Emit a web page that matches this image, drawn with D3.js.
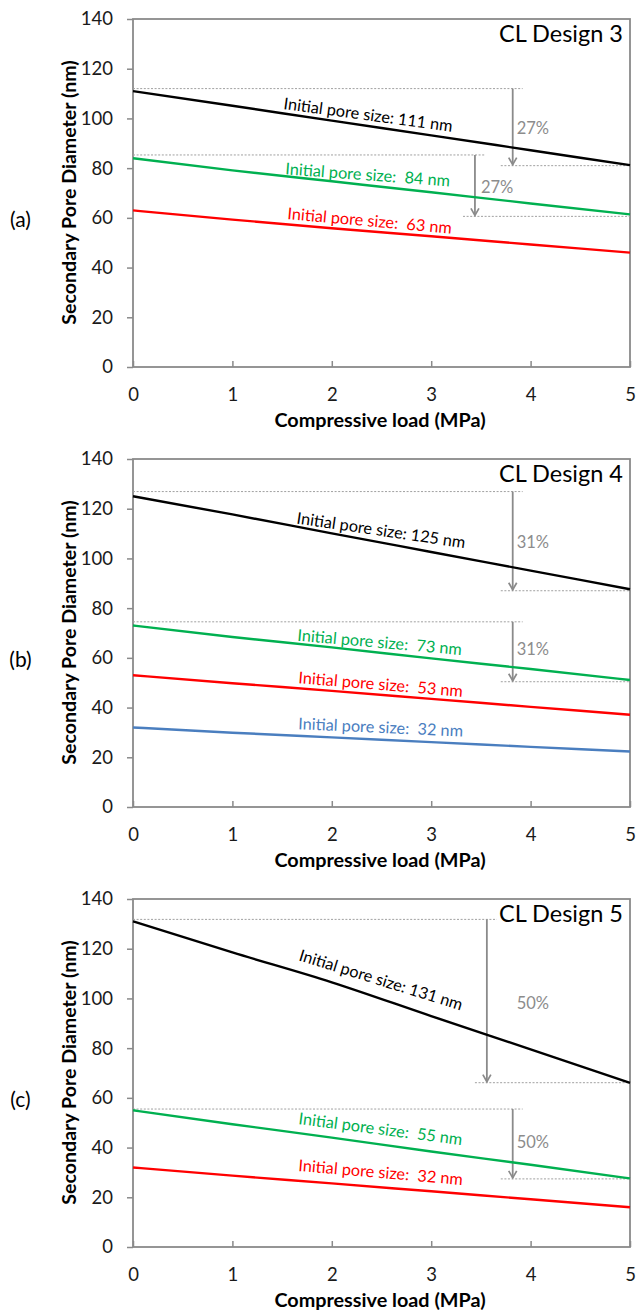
<!DOCTYPE html>
<html>
<head>
<meta charset="utf-8">
<script src="https://cdn.jsdelivr.net/npm/d3@7"></script>
<style>
  body { margin: 0; background: #fff; }
  svg { display: block; font-family: Lato, "Open Sans", sans-serif; }
  .lbl { white-space: pre; }
</style>
</head>
<body>
<svg id="chart" width="636" height="1311"></svg>
<script>
// ---- data ---------------------------------------------------------------
const loadMPa = [0, 1, 2, 3, 4, 5];
const xTickValues = [0, 1, 2, 3, 4, 5];
const yTickValues = [0, 20, 40, 60, 80, 100, 120, 140];
const panelLetters = ["(a)", "(b)", "(c)"];
const designTitles = ["CL Design 3", "CL Design 4", "CL Design 5"];
const xAxisTitle = "Compressive load (MPa)";
const yAxisTitle = "Secondary Pore Diameter (nm)";

// CL Design 3 – secondary pore diameter (nm) vs load
const design3Pore111 = [111, 105.1, 99.1, 93.2, 87.2, 81.2];
const design3Pore84  = [84, 79.1, 74.7, 70.3, 65.8, 61.4];
const design3Pore63  = [63, 59.3, 55.8, 52.6, 49.3, 46];

// CL Design 4
const design4Pore125 = [125, 117.7, 110.1, 102.6, 95.1, 87.6];
const design4Pore73  = [73, 68.4, 64.2, 59.8, 55.5, 51.1];
const design4Pore53  = [53, 49.8, 46.7, 43.5, 40.3, 37.1];
const design4Pore32  = [32, 29.9, 28.0, 26.1, 24.2, 22.3];

// CL Design 5
const design5Pore131 = [131, 118.5, 106.5, 92.9, 79.5, 66];
const design5Pore55  = [55, 49.4, 44.0, 38.4, 33.1, 27.6];
const design5Pore32  = [32, 28.7, 25.6, 22.4, 19.2, 16];

const seriesLabels3 = ["Initial pore size: 111 nm", "Initial pore size:  84 nm", "Initial pore size:  63 nm"];
const seriesLabels4 = ["Initial pore size: 125 nm", "Initial pore size:  73 nm", "Initial pore size:  53 nm", "Initial pore size:  32 nm"];
const seriesLabels5 = ["Initial pore size: 131 nm", "Initial pore size:  55 nm", "Initial pore size:  32 nm"];

// Reduction markers: [from value, to value, load at arrow]
const design3Drops = [[112, 81, 3.82], [85.3, 60.6, 3.44]];
const design4Drops = [[126.9, 87, 3.82], [74.5, 50.4, 3.82]];
const design5Drops = [[131.8, 66.1, 3.56], [55.5, 27.4, 3.82]];
const design3DropText = ["27%", "27%"];
const design4DropText = ["31%", "31%"];
const design5DropText = ["50%", "50%"];

// ---- layout -------------------------------------------------------------
const BLACK = "#000000", GREEN = "#00b050", RED = "#ff0000", BLUE = "#4a7ebf";
const GREY = "#8a8a8a";

// label anchors in data units: [load, diameter, rotation deg]
const labelAnchors = [
  [[1.51, 103.8, 7.7], [1.53, 77.5, 4.2], [1.55, 59.5, 5.1]],
  [[1.64, 114.1, 8.4], [1.65, 66.9, 5.0], [1.66, 49.8, 4.7], [1.66, 31.3, 2.6]],
  [[1.66, 115.4, 17.2], [1.66, 49.5, 7.4], [1.66, 30.6, 4.9]]
];
// percentage text anchors in data units: [load, diameter]
const dropTextAnchors = [
  [[3.86, 96.1], [3.50, 72.4]],
  [[3.86, 106.7], [3.86, 63.6]],
  [[3.86, 98.3], [3.86, 42.4]]
];

const panels = [
  { series: [design3Pore111, design3Pore84, design3Pore63], colors: [BLACK, GREEN, RED],
    labels: seriesLabels3, drops: design3Drops, dropText: design3DropText },
  { series: [design4Pore125, design4Pore73, design4Pore53, design4Pore32], colors: [BLACK, GREEN, RED, BLUE],
    labels: seriesLabels4, drops: design4Drops, dropText: design4DropText },
  { series: [design5Pore131, design5Pore55, design5Pore32], colors: [BLACK, GREEN, RED],
    labels: seriesLabels5, drops: design5Drops, dropText: design5DropText }
];

const plotLeft = 133, plotRight = 630, plotH = 348;
const panelTops = [19, 459, 899];

const svg = d3.select("#chart");
svg.append("rect").attr("width", 636).attr("height", 1311).attr("fill", "#fff");

const x = d3.scaleLinear().domain([0, 5]).range([plotLeft, plotRight]);

// open chevron arrow head (marker x axis follows the line direction)
svg.append("defs").append("marker")
  .attr("id", "chev")
  .attr("viewBox", "-10 -6 12 12")
  .attr("refX", 0).attr("refY", 0)
  .attr("markerWidth", 12).attr("markerHeight", 12)
  .attr("markerUnits", "userSpaceOnUse")
  .attr("orient", "auto")
  .append("path")
  .attr("d", "M-7,-4 L0,0 L-7,4")
  .attr("fill", "none").attr("stroke", GREY).attr("stroke-width", 1.7)
  .attr("stroke-linejoin", "miter");

panels.forEach((p, i) => {
  const top = panelTops[i], bottom = top + plotH;
  const y = d3.scaleLinear().domain([0, 140]).range([bottom, top]);
  const g = svg.append("g");

  // y axis ticks and labels
  const yAxis = d3.axisLeft(y).tickValues(yTickValues).tickSize(6).tickPadding(14).tickFormat(d3.format("d"));
  const ya = g.append("g").attr("transform", `translate(${plotLeft},0)`).call(yAxis);
  ya.select(".domain").remove();
  ya.selectAll("line").attr("stroke", GREY).attr("stroke-width", 1.5);
  ya.selectAll("text").attr("font-size", 18.5).attr("fill", "#1a1a1a").attr("font-family", "Lato");

  // x axis: inward ticks
  const xAxis = d3.axisBottom(x).tickValues(xTickValues).tickSizeInner(-6).tickSizeOuter(0).tickPadding(21).tickFormat(d3.format("d"));
  const xa = g.append("g").attr("transform", `translate(0,${bottom})`).call(xAxis);
  xa.select(".domain").remove();
  xa.selectAll("line").attr("stroke", GREY).attr("stroke-width", 1.5);
  xa.selectAll("text").attr("font-size", 18.5).attr("fill", "#1a1a1a").attr("font-family", "Lato");

  // frame
  g.append("rect")
    .attr("x", plotLeft).attr("y", top)
    .attr("width", plotRight - plotLeft).attr("height", plotH)
    .attr("fill", "none").attr("stroke", GREY).attr("stroke-width", 1.8);

  // axis titles
  g.append("text")
    .attr("x", (plotLeft + plotRight) / 2 - 1.5).attr("y", bottom + 60)
    .attr("text-anchor", "middle").attr("font-weight", "bold").attr("font-size", 19.8)
    .attr("fill", "#000").text(xAxisTitle);
  g.append("text")
    .attr("transform", `translate(75.5,${(top + bottom) / 2 - 0.5}) rotate(-90)`)
    .attr("text-anchor", "middle").attr("font-weight", "bold").attr("font-size", 19.6)
    .attr("fill", "#000").text(yAxisTitle);

  // panel letter
  g.append("text")
    .attr("x", 20.5).attr("y", top + 199)
    .attr("text-anchor", "middle").attr("dominant-baseline", "central")
    .attr("font-size", 21).attr("fill", "#000").text(panelLetters[i]);

  // design title
  g.append("text")
    .attr("x", 623).attr("y", top + 23)
    .attr("text-anchor", "end").attr("font-size", 23.5).attr("fill", "#000")
    .text(designTitles[i]);

  // reduction guides
  p.drops.forEach(([from, to, at], k) => {
    g.append("line")
      .attr("x1", x(0)).attr("x2", x(at + 0.1))
      .attr("y1", y(from)).attr("y2", y(from))
      .attr("stroke", "#a0a0a0").attr("stroke-width", 1).attr("stroke-dasharray", "2,1.6");
    g.append("line")
      .attr("x1", x(at - 0.12)).attr("x2", x(5))
      .attr("y1", y(to)).attr("y2", y(to))
      .attr("stroke", "#a0a0a0").attr("stroke-width", 1).attr("stroke-dasharray", "2,1.6");
    g.append("line")
      .attr("x1", x(at)).attr("x2", x(at))
      .attr("y1", y(from)).attr("y2", y(to) - 1)
      .attr("stroke", GREY).attr("stroke-width", 1.8)
      .attr("marker-end", "url(#chev)");
    const [tx, ty] = dropTextAnchors[i][k];
    g.append("text")
      .attr("x", x(tx)).attr("y", y(ty))
      .attr("dominant-baseline", "central")
      .attr("font-size", 16.5).attr("fill", "#8c8c8c")
      .text(p.dropText[k]);
  });

  // series lines
  const line = d3.line()
    .x((d, j) => x(loadMPa[j]))
    .y(d => y(d))
    .curve(d3.curveMonotoneX);
  p.series.forEach((vals, k) => {
    g.append("path")
      .datum(vals)
      .attr("d", line)
      .attr("fill", "none")
      .attr("stroke", p.colors[k])
      .attr("stroke-width", 2.4)
      .attr("stroke-linecap", "butt");
  });

  // series labels
  p.labels.forEach((t, k) => {
    const [lx, ly, ang] = labelAnchors[i][k];
    g.append("text")
      .attr("class", "lbl")
      .attr("transform", `translate(${x(lx)},${y(ly)}) rotate(${ang})`)
      .attr("font-size", 16.3).attr("fill", p.colors[k])
      .text(t);
  });
});
</script>
</body>
</html>
